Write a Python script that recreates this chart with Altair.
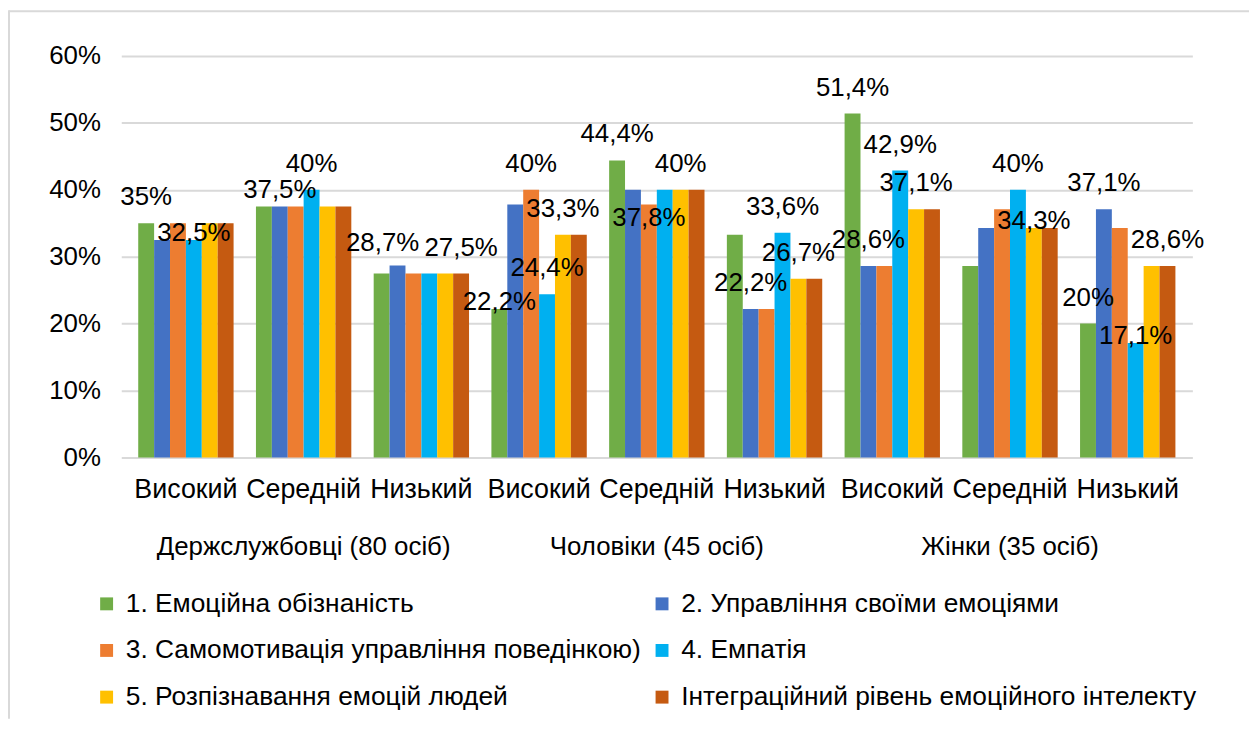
import altair as alt
import pandas as pd

groups = ["Держслужбовці (80 осіб)", "Чоловіки (45 осіб)", "Жінки (35 осіб)"]
levels = ["Високий", "Середній", "Низький"]
series = [
    "1. Емоційна обізнаність",
    "2. Управління своїми емоціями",
    "3. Самомотивація  управління поведінкою)",
    "4. Емпатія",
    "5. Розпізнавання емоцій людей",
    "Інтеграційний рівень емоційного інтелекту",
]
colors = ["#70AD47", "#4472C4", "#ED7D31", "#00B0F0", "#FFC000", "#C55A11"]

s1 = [35, 37.5, 27.5, 22.2, 44.4, 33.3, 51.4, 28.6, 20]
s2 = [32.5, 37.5, 28.7, 37.8, 40, 22.2, 28.6, 34.3, 37.1]
s3 = [35, 37.5, 27.5, 40, 37.8, 22.2, 28.6, 37.1, 34.3]
s4 = [32.5, 40, 27.5, 24.4, 40, 33.6, 42.9, 40, 17.1]
s5 = [35, 37.5, 27.5, 33.3, 40, 26.7, 37.1, 34.3, 28.6]
s6 = [35, 37.5, 27.5, 33.3, 40, 26.7, 37.1, 34.3, 28.6]
all_values = [s1, s2, s3, s4, s5, s6]

# (category index, series index) of bars that carry a value label, sitting above the bar
labelled = [
    (0, 0), (1, 3), (2, 5),
    (3, 2), (3, 4), (3, 3),
    (4, 0), (4, 4),
    (5, 1), (5, 3), (5, 4),
    (6, 0), (6, 3), (6, 1), (6, 4),
    (7, 3), (8, 1), (8, 0), (8, 5),
]
# labels that Excel moved away from the plain "above the bar" spot
labelled_left = [(2, 1)]
labelled_low = [(0, 3), (3, 0), (7, 4), (8, 3)]
labelled_mid = [(1, 1)]
labelled_inside = [(4, 2)]

cats = [f"{g}|{l}" for g in groups for l in levels]
rows = []
for ci, cat in enumerate(cats):
    for si, s in enumerate(series):
        key = (ci, si)
        place = ("above" if key in labelled else "left" if key in labelled_left
                 else "low" if key in labelled_low
                 else "mid" if key in labelled_mid else "inside" if key in labelled_inside
                 else "none")
        rows.append(dict(cat=cat, series=s, value=all_values[si][ci], place=place))
df = pd.DataFrame(rows)
gdf = pd.DataFrame({"cat": [cats[1], cats[4], cats[7]], "group": groups})

FONT = "Liberation Sans"

x_enc = alt.X(
    "cat:N", sort=cats, title=None,
    scale=alt.Scale(paddingInner=0.19, paddingOuter=0.144),
    axis=alt.Axis(labelExpr="split(datum.label, '|')[1]", domain=False, ticks=False,
                  labelPadding=19, labelFontSize=27, labelFont=FONT, labelColor="#000000",
                  grid=False, labelAngle=0),
)
xo_enc = alt.XOffset("series:N", sort=series, scale=alt.Scale(paddingInner=0, paddingOuter=0))
y_enc = alt.Y(
    "value:Q", title=None,
    scale=alt.Scale(domain=[0, 60], nice=False),
    axis=alt.Axis(values=[0, 10, 20, 30, 40, 50, 60], labelExpr="datum.value + '%'",
                  domain=False, ticks=False, labelPadding=21, labelFontSize=26,
                  labelFont=FONT, labelColor="#000000", gridColor="#d9d9d9", gridWidth=2),
)

bars = alt.Chart(df).mark_bar().encode(
    x=x_enc,
    xOffset=xo_enc,
    y=y_enc,
    color=alt.Color(
        "series:N", sort=series,
        scale=alt.Scale(domain=series, range=colors),
        legend=alt.Legend(title=None, orient="none", legendX=-28, legendY=538,
                          direction="horizontal",
                          columns=2, symbolType="square", symbolSize=169,
                          symbolStrokeWidth=0, labelFontSize=26.5, labelFont=FONT,
                          labelColor="#000000", rowPadding=20, columnPadding=-8,
                          labelLimit=800, labelOffset=6, padding=0),
    ),
)


def label_layer(place, dy, dx=0):
    return alt.Chart(df).transform_filter(f"datum.place == '{place}'").transform_calculate(
        txt="replace(format(datum.value, '~g'), '.', ',') + '%'"
    ).mark_text(dx=dx, dy=dy, baseline="middle", fontSize=26, font=FONT,
                color="#000000").encode(
        x=alt.X("cat:N", sort=cats),
        xOffset=alt.XOffset("series:N", sort=series),
        y=alt.Y("value:Q"),
        text="txt:N",
    )


labels = [label_layer("above", -26), label_layer("left", -23, -15),
          label_layer("low", -7), label_layer("mid", -17), label_layer("inside", 14)]

group_labels = alt.Chart(gdf).mark_text(baseline="middle", fontSize=26, font=FONT,
                                        color="#000000").encode(
    x=alt.X("cat:N", sort=cats),
    y=alt.value(494),
    text="group:N",
)

border = pd.DataFrame({"k": [0]})
top_line = alt.Chart(border).mark_rule(color="#d9d9d9", strokeWidth=2).encode(
    x=alt.value(-113), x2=alt.value(1135), y=alt.value(-45))
left_line = alt.Chart(border).mark_rule(color="#d9d9d9", strokeWidth=2).encode(
    x=alt.value(-113), y=alt.value(-46), y2=alt.value(667))

chart = alt.layer(top_line, left_line, bars, *labels, group_labels).properties(
    width=1078, height=404,
    autosize=alt.AutoSizeParams(type="none"),
    padding={"left": 114, "top": 46, "right": 57, "bottom": 271},
).configure_view(stroke=None)

chart.save("out.html", embed_options={"renderer": "svg", "actions": False})
